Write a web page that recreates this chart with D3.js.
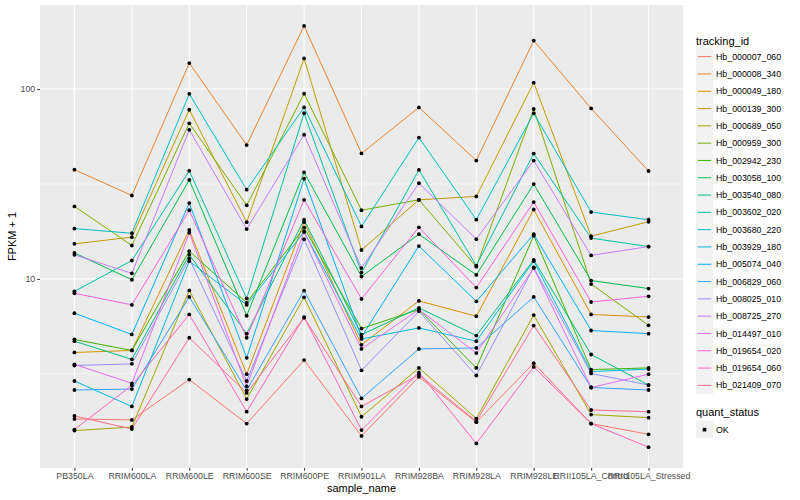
<!DOCTYPE html>
<html>
<head>
<meta charset="utf-8">
<script src="https://cdn.jsdelivr.net/npm/d3@7"></script>
<style>
  body { margin: 0; background: #fff; }
  text { font-family: "Liberation Sans", Arial, sans-serif; }
</style>
</head>
<body>
<div id="chart"></div>
<script>
// Samples on the x axis
const samples = ['PB350LA', 'RRIM600LA', 'RRIM600LE', 'RRIM600SE', 'RRIM600PE', 'RRIM901LA',
  'RRIM928BA', 'RRIM928LA', 'RRIM928LE', 'RRII105LA_Control', 'RRII105LA_Stressed'];

// Gene ids, one line each
const trackingIds = ['Hb_000007_060', 'Hb_000008_340', 'Hb_000049_180', 'Hb_000139_300', 'Hb_000689_050',
  'Hb_000959_300', 'Hb_002942_230', 'Hb_003058_100', 'Hb_003540_080', 'Hb_003602_020',
  'Hb_003680_220', 'Hb_003929_180', 'Hb_005074_040', 'Hb_006829_060', 'Hb_008025_010',
  'Hb_008725_270', 'Hb_014497_010', 'Hb_019654_020', 'Hb_019654_060', 'Hb_021409_070'];

// FPKM + 1 per sample, same order as samples
const fpkm = [
  [1.83, 1.81, 2.95, 1.73, 3.74, 1.49, 3.05, 1.76, 3.6, 1.73, 1.52],
  [37.6, 27.5, 137, 50.7, 215, 45.8, 80, 42, 180, 79, 37],
  [4.1, 4.2, 18.1, 3.15, 19.9, 4.5, 7.66, 6.36, 23.2, 6.5, 6.3],
  [15.3, 16.6, 77.8, 19.9, 145, 14.2, 26.1, 27.2, 108, 16.8, 20],
  [1.59, 1.66, 8.7, 2.33, 8.0, 1.88, 3.4, 1.84, 6.45, 1.93, 1.86],
  [24.1, 15, 66, 24.4, 94.5, 23, 26.1, 11.6, 78.5, 9.4, 5.7],
  [4.8, 4.2, 14.0, 7.5, 18.6, 5.48, 6.9, 3.4, 16.9, 3.33, 3.4],
  [13.7, 9.9, 33.2, 6.4, 36.4, 10.3, 17.2, 10.5, 31.6, 9.8, 8.9],
  [4.7, 3.77, 13.4, 5.15, 20.5, 5.09, 7.04, 5.03, 12.6, 4.0, 2.76],
  [8.6, 12.5, 37.1, 7.9, 74.6, 10.8, 37.5, 11.75, 45.7, 16.4, 14.8],
  [18.4, 17.4, 94.4, 29.5, 80, 18.9, 55.5, 20.5, 74.5, 22.5, 20.5],
  [2.9, 2.13, 12.4, 7.3, 17.7, 4.83, 5.52, 4.7, 12.4, 3.25, 3.35],
  [6.6, 5.1, 25.1, 3.84, 33.7, 4.95, 14.9, 7.62, 17.2, 5.35, 5.15],
  [2.6, 2.63, 8.04, 2.59, 8.68, 2.35, 4.28, 4.33, 8.04, 2.68, 2.6],
  [3.5, 3.57, 12.8, 2.9, 16.2, 3.3, 6.75, 3.1, 11.5, 3.18, 2.76],
  [13.4, 10.7, 61, 18.3, 57.5, 11.4, 31.9, 16.2, 42, 13.3, 14.8],
  [3.55, 2.82, 17.5, 2.72, 17.7, 4.28, 6.9, 4.07, 11.4, 2.68, 3.15],
  [8.4, 7.3, 23.0, 4.9, 26.1, 7.85, 18.7, 9.0, 25.4, 7.56, 8.1],
  [1.61, 2.75, 6.5, 2.0, 6.3, 1.6, 3.22, 1.36, 3.44, 1.73, 1.3],
  [1.9, 1.62, 4.9, 2.51, 6.24, 2.13, 3.13, 1.78, 5.68, 2.04, 2.0]
];

const yTicks = [10, 100];
const yMinor = [Math.sqrt(10), Math.sqrt(1000)];
const statusLevels = ['OK'];

// ggplot default hue palette for 20 levels
const palette = ['#F8766D', '#EA8331', '#D89000', '#C09B00', '#A3A500', '#7CAE00', '#39B600', '#00BB4E',
  '#00BF7D', '#00C1A3', '#00BFC4', '#00BAE0', '#00B0F6', '#35A2FF', '#9590FF', '#C77CFF',
  '#E76BF3', '#FA62DB', '#FF62BC', '#FF6C91'];

const width = 800;
const height = 500;
const panel = { left: 40, right: 683, top: 5, bottom: 468 };

const svg = d3.select('#chart')
  .append('svg')
  .attr('width', width)
  .attr('height', height);

// Scales
const x = d3.scalePoint()
  .domain(samples)
  .range([panel.left, panel.right])
  .padding(0.6);

const y = d3.scaleLog()
  .domain([1.01, 277])
  .range([panel.bottom, panel.top]);

const color = d3.scaleOrdinal()
  .domain(trackingIds)
  .range(palette);

// Panel background and grid
svg.append('rect')
  .attr('x', panel.left)
  .attr('y', panel.top)
  .attr('width', panel.right - panel.left)
  .attr('height', panel.bottom - panel.top)
  .attr('fill', '#EBEBEB');

svg.selectAll('.minor')
  .data(yMinor.filter((d) => y(d) > panel.top))
  .enter()
  .append('line')
  .attr('x1', panel.left)
  .attr('x2', panel.right)
  .attr('y1', (d) => y(d))
  .attr('y2', (d) => y(d))
  .attr('stroke', '#fff')
  .attr('stroke-width', 0.55);

svg.selectAll('.hgrid')
  .data(yTicks)
  .enter()
  .append('line')
  .attr('x1', panel.left)
  .attr('x2', panel.right)
  .attr('y1', (d) => y(d))
  .attr('y2', (d) => y(d))
  .attr('stroke', '#fff')
  .attr('stroke-width', 1.1);

svg.selectAll('.vgrid')
  .data(samples)
  .enter()
  .append('line')
  .attr('x1', (d) => x(d))
  .attr('x2', (d) => x(d))
  .attr('y1', panel.top)
  .attr('y2', panel.bottom)
  .attr('stroke', '#fff')
  .attr('stroke-width', 1.1);

// Axes
const xAxis = svg.append('g')
  .attr('transform', `translate(0,${panel.bottom})`)
  .call(d3.axisBottom(x).tickSizeInner(2.75).tickSizeOuter(0).tickPadding(2));

const yAxis = svg.append('g')
  .attr('transform', `translate(${panel.left},0)`)
  .call(d3.axisLeft(y).tickValues(yTicks).tickFormat(d3.format('d')).tickSizeInner(2.75).tickSizeOuter(0).tickPadding(2));

[xAxis, yAxis].forEach((g) => {
  g.select('.domain').remove();
  g.selectAll('line').attr('stroke', '#333');
  g.selectAll('text').attr('fill', '#4D4D4D').attr('font-size', 8.8);
});

// Lines
const line = d3.line()
  .x((_, i) => x(samples[i]))
  .y((d) => y(d));

svg.selectAll('.series')
  .data(fpkm)
  .enter()
  .append('path')
  .attr('d', (d) => line(d))
  .attr('fill', 'none')
  .attr('stroke', (_, i) => color(trackingIds[i]))
  .attr('stroke-width', 1);

// Points
const points = fpkm.flatMap((vals) => vals.map((v, i) => ({ sample: samples[i], value: v })));
svg.selectAll('.pt')
  .data(points)
  .enter()
  .append('circle')
  .attr('cx', (d) => x(d.sample))
  .attr('cy', (d) => y(d.value))
  .attr('r', 1.9)
  .attr('fill', '#000');

// Axis titles
svg.append('text')
  .attr('x', (panel.left + panel.right) / 2)
  .attr('y', 492)
  .attr('text-anchor', 'middle')
  .attr('font-size', 11)
  .text('sample_name');

svg.append('text')
  .attr('transform', `translate(16,${(panel.top + panel.bottom) / 2}) rotate(-90)`)
  .attr('text-anchor', 'middle')
  .attr('font-size', 11)
  .text('FPKM + 1');

// Legend: tracking_id
const legend = svg.append('g').attr('transform', 'translate(696,0)');
const keyH = 17.3;

legend.append('text')
  .attr('x', 0)
  .attr('y', 44.5)
  .attr('font-size', 11)
  .text('tracking_id');

const keys = legend.selectAll('.key')
  .data(trackingIds)
  .enter()
  .append('g')
  .attr('transform', (_, i) => `translate(0,${48 + i * keyH})`);

keys.append('rect')
  .attr('width', 17)
  .attr('height', keyH)
  .attr('fill', '#F2F2F2');

keys.append('line')
  .attr('x1', 1.7)
  .attr('x2', 15.3)
  .attr('y1', keyH / 2)
  .attr('y2', keyH / 2)
  .attr('stroke', (d) => color(d))
  .attr('stroke-width', 1);

keys.append('text')
  .attr('x', 20)
  .attr('y', keyH / 2)
  .attr('dy', '0.35em')
  .attr('font-size', 8.8)
  .text((d) => d);

// Legend: quant_status
legend.append('text')
  .attr('x', 0)
  .attr('y', 416)
  .attr('font-size', 11)
  .text('quant_status');

const status = legend.selectAll('.status')
  .data(statusLevels)
  .enter()
  .append('g')
  .attr('transform', (_, i) => `translate(0,${421 + i * keyH})`);

status.append('rect')
  .attr('width', 17)
  .attr('height', keyH)
  .attr('fill', '#F2F2F2');

status.append('rect')
  .attr('x', 6.7)
  .attr('y', keyH / 2 - 1.8)
  .attr('width', 3.6)
  .attr('height', 3.6)
  .attr('fill', '#000');

status.append('text')
  .attr('x', 20)
  .attr('y', keyH / 2)
  .attr('dy', '0.35em')
  .attr('font-size', 8.8)
  .text((d) => d);
</script>
</body>
</html>
